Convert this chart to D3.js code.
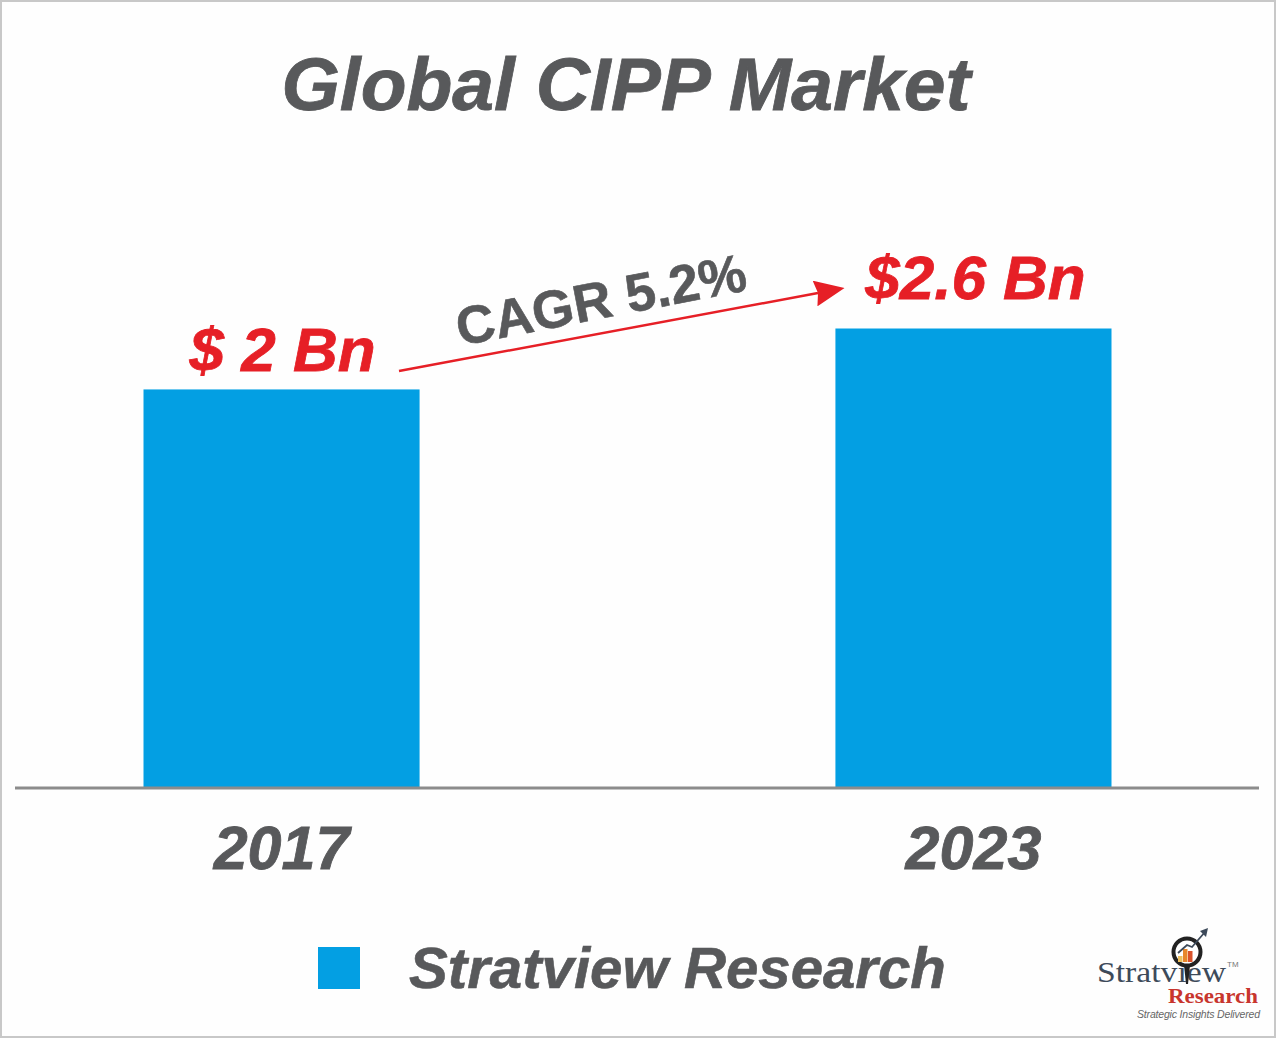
<!DOCTYPE html>
<html>
<head>
<meta charset="utf-8">
<script src="https://cdn.jsdelivr.net/npm/d3@7"></script>
<style>
  html, body { margin: 0; padding: 0; background: #fff; }
  svg { display: block; }
  text { font-family: "Liberation Sans", Arial, sans-serif; }
</style>
</head>
<body>
<div class="container"></div>
<script>
const years = ["2017", "2023"];
const marketValues = [2, 2.6];
const valueLabels = ["$ 2 Bn", "$2.6 Bn"];
const legendLabels = ["Stratview Research"];
const cagrLabel = "CAGR 5.2%";

const width = 1276,
  height = 1038;

const grey = "#58595b",
  red = "#e61f26",
  blue = "#039fe3";

const svg = d3
  .select(".container")
  .append("svg")
  .attr("width", width)
  .attr("height", height);

svg
  .append("rect")
  .attr("x", 1)
  .attr("y", 1)
  .attr("width", width - 2)
  .attr("height", height - 2)
  .attr("fill", "#fefefe")
  .attr("stroke", "#c8c8c8")
  .attr("stroke-width", 2);

// the bars in the picture do not start from zero, so the domain does not either
const y = d3.scaleLinear().domain([-1.925, 2.6]).range([788, 328.5]);

const x = d3
  .scaleBand()
  .domain(years)
  .range([143.5, 1111.5])
  .paddingInner(0.601)
  .paddingOuter(0);

svg
  .append("text")
  .attr("x", 626)
  .attr("y", 110)
  .attr("text-anchor", "middle")
  .attr("font-size", 75)
  .attr("font-weight", "bold")
  .attr("font-style", "italic")
  .attr("fill", grey)
  .attr("stroke", grey)
  .attr("stroke-width", 0.8)
  .text("Global CIPP Market");

svg
  .append("g")
  .selectAll("rect")
  .data(years)
  .enter()
  .append("rect")
  .attr("x", d => x(d))
  .attr("y", (d, i) => y(marketValues[i]))
  .attr("width", x.bandwidth())
  .attr("height", (d, i) => y.range()[0] - y(marketValues[i]))
  .attr("fill", blue);

svg
  .append("line")
  .attr("x1", 15)
  .attr("x2", 1259)
  .attr("y1", 788)
  .attr("y2", 788)
  .attr("stroke", "#8c8c8c")
  .attr("stroke-width", 3);

const xAxis = d3.axisBottom(x).tickSize(0).tickPadding(0);
const axisG = svg
  .append("g")
  .attr("transform", "translate(0,788)")
  .call(xAxis);
axisG.select(".domain").remove();
axisG
  .selectAll("text")
  .attr("x", 0)
  .attr("y", 81)
  .attr("dy", 0)
  .attr("font-size", 61)
  .attr("font-weight", "bold")
  .attr("font-style", "italic")
  .attr("font-family", "Liberation Sans")
  .attr("fill", grey)
  .attr("stroke", grey)
  .attr("stroke-width", 0.8);

svg
  .append("g")
  .selectAll("text")
  .data(years)
  .enter()
  .append("text")
  .attr("x", d => x(d) + x.bandwidth() / 2)
  .attr("y", (d, i) => y(marketValues[i]) - 18 - i * 12)
  .attr("dx", (d, i) => 1 + i)
  .attr("text-anchor", "middle")
  .attr("font-size", 62)
  .attr("font-weight", "bold")
  .attr("font-style", "italic")
  .attr("fill", red)
  .attr("stroke", red)
  .attr("stroke-width", 0.8)
  .text((d, i) => valueLabels[i]);

// CAGR arrow
svg
  .append("defs")
  .append("marker")
  .attr("id", "arrow")
  .attr("markerUnits", "userSpaceOnUse")
  .attr("viewBox", "0 0 30 26")
  .attr("refX", 3)
  .attr("refY", 13)
  .attr("markerWidth", 30)
  .attr("markerHeight", 26)
  .attr("orient", "auto")
  .append("path")
  .attr("d", "M0,0L30,13L0,26L3,13Z")
  .attr("fill", red);

svg
  .append("line")
  .attr("x1", 399)
  .attr("y1", 371)
  .attr("x2", 818)
  .attr("y2", 293)
  .attr("stroke", red)
  .attr("stroke-width", 2.5)
  .attr("marker-end", "url(#arrow)");

svg
  .append("text")
  .attr("transform", "translate(460,346) rotate(-11)")
  .attr("font-size", 53.5)
  .attr("font-weight", "bold")
  .attr("fill", grey)
  .attr("stroke", grey)
  .attr("stroke-width", 0.6)
  .text(cagrLabel);

// legend
svg
  .append("rect")
  .attr("x", 318)
  .attr("y", 947)
  .attr("width", 42)
  .attr("height", 42)
  .attr("fill", blue);

svg
  .append("text")
  .attr("x", 409)
  .attr("y", 988)
  .attr("font-size", 58.2)
  .attr("font-weight", "bold")
  .attr("font-style", "italic")
  .attr("fill", grey)
  .attr("stroke", grey)
  .attr("stroke-width", 0.6)
  .text(legendLabels[0]);

// logo, bottom right
const logo = svg.append("g").attr("class", "logo");

logo
  .append("text")
  .attr("x", 1097)
  .attr("y", 982)
  .attr("font-size", 29)
  .attr("textLength", 129)
  .attr("lengthAdjust", "spacingAndGlyphs")
  .attr("style", "font-family:'Liberation Serif',serif")
  .attr("fill", "#3d4a5a")
  .text("Stratview");

logo
  .append("text")
  .attr("x", 1227)
  .attr("y", 967)
  .attr("font-size", 8)
  .attr("fill", "#777")
  .text("TM");

logo
  .append("text")
  .attr("x", 1168)
  .attr("y", 1003)
  .attr("font-size", 21)
  .attr("font-weight", "bold")
  .attr("textLength", 90)
  .attr("lengthAdjust", "spacingAndGlyphs")
  .attr("style", "font-family:'Liberation Serif',serif")
  .attr("fill", "#c8352d")
  .text("Research");

logo
  .append("text")
  .attr("x", 1137)
  .attr("y", 1018)
  .attr("font-size", 10.5)
  .attr("font-style", "italic")
  .attr("textLength", 123)
  .attr("fill", "#666")
  .text("Strategic Insights Delivered");

logo
  .append("circle")
  .attr("cx", 1187)
  .attr("cy", 952)
  .attr("r", 13.5)
  .attr("fill", "#fff")
  .attr("stroke", "#222")
  .attr("stroke-width", 4);

logo
  .append("path")
  .attr("d", "M1184,965L1190,965L1188,984L1186,984Z")
  .attr("fill", "#222");

logo
  .selectAll(".logo-bar")
  .data([[1178, 956, "#eec060"], [1183, 949, "#e8872c"], [1188, 951, "#d9532c"]])
  .enter()
  .append("rect")
  .attr("class", "logo-bar")
  .attr("x", d => d[0])
  .attr("y", d => d[1])
  .attr("width", 4.5)
  .attr("height", d => 962 - d[1])
  .attr("fill", d => d[2]);

logo
  .append("path")
  .attr("d", "M1178,953L1187,945L1192,947L1205,932")
  .attr("fill", "none")
  .attr("stroke", "#3d4a5a")
  .attr("stroke-width", 1.8);

logo
  .append("path")
  .attr("d", "M1208,928L1200,931L1206,937Z")
  .attr("fill", "#3d4a5a");
</script>
</body>
</html>
